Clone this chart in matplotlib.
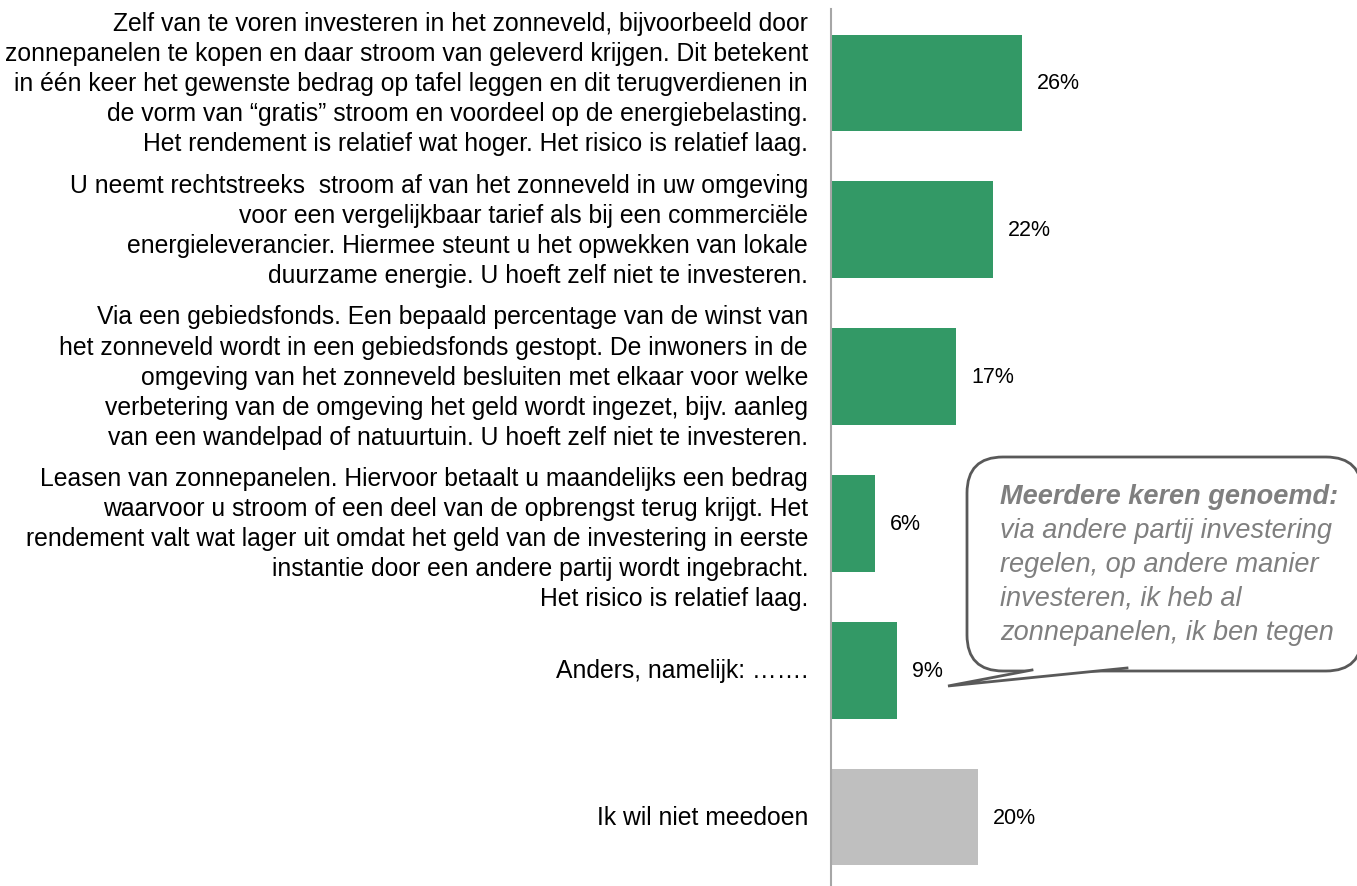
import matplotlib.pyplot as plt
from matplotlib.patches import FancyBboxPatch, Polygon

plt.rcParams["font.family"] = ["Liberation Sans", "DejaVu Sans"]

labels = [
    "Zelf van te voren investeren in het zonneveld, bijvoorbeeld door\n"
    "zonnepanelen te kopen en daar stroom van geleverd krijgen. Dit betekent\n"
    "in één keer het gewenste bedrag op tafel leggen en dit terugverdienen in\n"
    "de vorm van “gratis” stroom en voordeel op de energiebelasting.\n"
    "Het rendement is relatief wat hoger. Het risico is relatief laag.",
    "U neemt rechtstreeks  stroom af van het zonneveld in uw omgeving\n"
    "voor een vergelijkbaar tarief als bij een commerciële\n"
    "energieleverancier. Hiermee steunt u het opwekken van lokale\n"
    "duurzame energie. U hoeft zelf niet te investeren.",
    "Via een gebiedsfonds. Een bepaald percentage van de winst van\n"
    "het zonneveld wordt in een gebiedsfonds gestopt. De inwoners in de\n"
    "omgeving van het zonneveld besluiten met elkaar voor welke\n"
    "verbetering van de omgeving het geld wordt ingezet, bijv. aanleg\n"
    "van een wandelpad of natuurtuin. U hoeft zelf niet te investeren.",
    "Leasen van zonnepanelen. Hiervoor betaalt u maandelijks een bedrag\n"
    "waarvoor u stroom of een deel van de opbrengst terug krijgt. Het\n"
    "rendement valt wat lager uit omdat het geld van de investering in eerste\n"
    "instantie door een andere partij wordt ingebracht.\n"
    "Het risico is relatief laag.",
    "Anders, namelijk: …….",
    "Ik wil niet meedoen",
]
values = [26, 22, 17, 6, 9, 20]
colors = ["#339966", "#339966", "#339966", "#339966", "#339966", "#BFBFBF"]

callout_title = "Meerdere keren genoemd:"
callout_lines = [
    "via andere partij investering",
    "regelen, op andere manier",
    "investeren, ik heb al",
    "zonnepanelen, ik ben tegen",
]

W, H = 1357, 887
fig = plt.figure(figsize=(W / 100, H / 100), dpi=100)
ax = fig.add_axes([831 / W, 0, (W - 831) / W, (H - 10) / H])

px = 7.35  # pixels per percent
y = list(range(len(values)))
ax.barh(y, values, height=0.66, color=colors)
ax.set_xlim(0, (W - 831) / px)
ax.set_ylim(5.47, -0.504)

for i, v in enumerate(values):
    ax.text(v + 15 / px, i, f"{v}%", ha="left", va="center", fontsize=15.5)

for i, lab in enumerate(labels):
    shift = 0.1 if i == 3 else 0
    ax.text(-23 / px, i + shift, lab, ha="right", va="center", ma="right",
            fontsize=17.8, linespacing=1.32, clip_on=False)

for s in ["top", "right", "bottom"]:
    ax.spines[s].set_visible(False)
ax.spines["left"].set_color("#A6A6A6")
ax.spines["left"].set_linewidth(1.5)
ax.set_xticks([])
ax.set_yticks([])

# callout in pixel coordinates
ov = fig.add_axes([0, 0, 1, 1], zorder=5)
ov.set_xlim(0, W)
ov.set_ylim(H, 0)
ov.axis("off")
ov.patch.set_alpha(0)

box = FancyBboxPatch((967, 458), 395, 214,
                     boxstyle="round,pad=0,rounding_size=36",
                     facecolor="white", edgecolor="#595959", linewidth=2)
ov.add_patch(box)
ov.add_patch(Polygon([(1032, 664), (1032, 671), (948, 687), (1127, 669), (1127, 664)],
                     closed=True, facecolor="white", edgecolor="none", zorder=3))
ov.plot([1032, 948, 1127], [671, 687, 669], color="#595959", linewidth=2,
        solid_joinstyle="miter", zorder=4)

ov.text(1000, 497, callout_title, fontsize=19.5, fontweight="bold", style="italic",
        color="#7F7F7F", ha="left", va="center")
for k, line in enumerate(callout_lines):
    ov.text(1000, 531 + 34 * k, line, fontsize=19.5, style="italic",
            color="#7F7F7F", ha="left", va="center")

fig.savefig("out.png", dpi=100)
